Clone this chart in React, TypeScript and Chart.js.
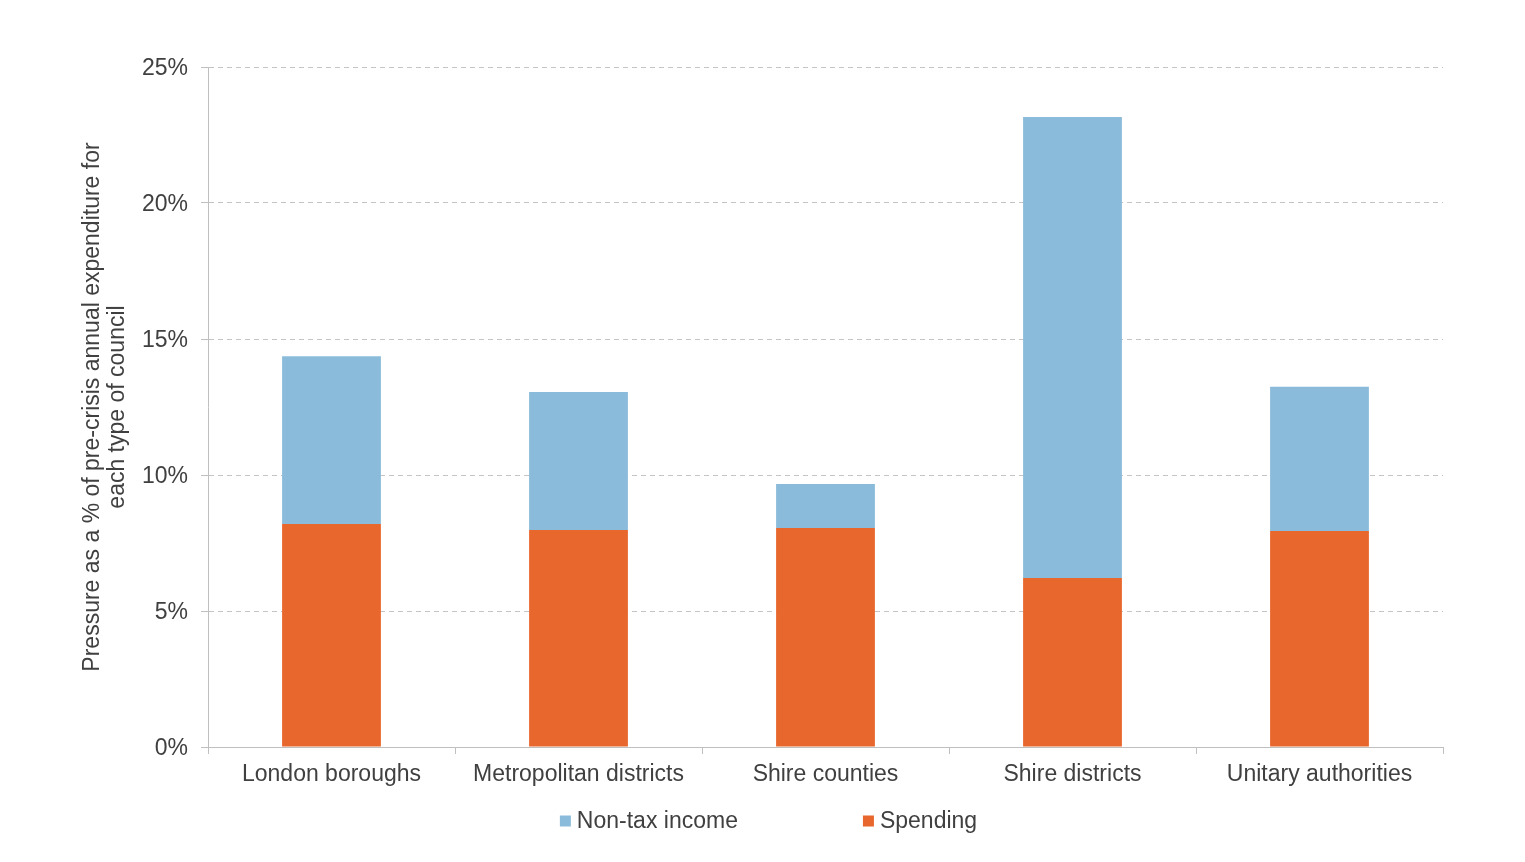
import React, { useEffect, useRef } from "react";
import { Chart, registerables } from "chart.js";

Chart.register(...registerables);

const categories = [
  "London boroughs",
  "Metropolitan districts",
  "Shire counties",
  "Shire districts",
  "Unitary authorities",
];
const spending = [8.2, 7.98, 8.05, 6.21, 7.94];
const nonTaxIncome = [6.17, 5.07, 1.62, 16.95, 5.3];
const yTicks = [0, 5, 10, 15, 20, 25];
const yTitle = ["Pressure as a % of pre-crisis annual expenditure for", "each type of council"];

const FONT = "'Liberation Sans', Arial, sans-serif";
const TEXT = "#404040";

const bottomLegend = {
  id: "bottomLegend",
  afterDraw(chart: any) {
    const ctx = chart.ctx as CanvasRenderingContext2D;
    const items = chart.data.datasets
      .map((d: any) => ({ label: d.label as string, color: d.backgroundColor as string }))
      .reverse();
    const box = 11;
    const gapText = 6;
    const gapItem = 125;
    ctx.save();
    ctx.font = `23px ${FONT}`;
    const widths = items.map((it: any) => box + gapText + ctx.measureText(it.label).width);
    const total = widths.reduce((a: number, b: number) => a + b, 0) + gapItem * (items.length - 1);
    let x = chart.width / 2 + 6 - total / 2;
    const y = chart.chartArea.bottom + 74;
    ctx.textBaseline = "middle";
    ctx.textAlign = "left";
    items.forEach((it: any, i: number) => {
      ctx.fillStyle = it.color;
      ctx.fillRect(x, y - box / 2, box, box);
      ctx.fillStyle = TEXT;
      ctx.fillText(it.label, x + box + gapText, y + 1);
      x += widths[i] + gapItem;
    });
    ctx.restore();
  },
};

export default function App() {
  const ref = useRef<HTMLCanvasElement | null>(null);
  useEffect(() => {
    if (!ref.current) return;
    const chart = new Chart(ref.current, {
      type: "bar",
      data: {
        labels: categories,
        datasets: [
          {
            label: "Spending",
            data: spending,
            backgroundColor: "#E8672C",
            barPercentage: 0.4,
            categoryPercentage: 1,
          },
          {
            label: "Non-tax income",
            data: nonTaxIncome,
            backgroundColor: "#8BBBDA",
            barPercentage: 0.4,
            categoryPercentage: 1,
          },
        ],
      },
      options: {
        animation: false,
        responsive: true,
        maintainAspectRatio: false,
        layout: { padding: { left: 0, right: 82, top: 67, bottom: 75 } },
        plugins: {
          legend: { display: false },
          tooltip: { enabled: false },
        },
        scales: {
          x: {
            stacked: true,
            afterFit: (s: any) => {
              s.height = 40;
            },
            grid: {
              drawOnChartArea: false,
              drawTicks: true,
              tickLength: 7,
              color: "#bfbfbf",
              offset: true,
            },
            border: { color: "#bfbfbf", width: 1 },
            ticks: {
              color: TEXT,
              font: { family: FONT, size: 23 },
              padding: 7,
              maxRotation: 0,
              autoSkip: false,
            },
          },
          y: {
            stacked: true,
            min: 0,
            max: 25,
            afterFit: (s: any) => {
              s.width = 208;
            },
            afterBuildTicks: (s: any) => {
              s.ticks = yTicks.map((v) => ({ value: v }));
            },
            grid: {
              color: (c: any) => (c.tick && c.tick.value === 0 ? "rgba(0,0,0,0)" : "#c4c4c4"),
              tickColor: "#bfbfbf",
              tickLength: 7,
              lineWidth: 1,
            },
            border: { color: "#bfbfbf", width: 1, dash: [5, 4] },
            ticks: {
              color: TEXT,
              font: { family: FONT, size: 23 },
              padding: 13,
              labelOffset: 2,
              callback: (v: any) => `${v}%`,
            },
            title: {
              display: true,
              text: yTitle,
              color: TEXT,
              font: { family: FONT, size: 23, lineHeight: 1.1 },
              padding: { top: 80, bottom: 0 },
            },
          },
        },
      },
      plugins: [bottomLegend],
    } as any);
    return () => chart.destroy();
  }, []);
  return (
    <div style={{ position: "absolute", left: 0, top: 0, width: 1525, height: 862, background: "#fff" }}>
      <canvas ref={ref} />
    </div>
  );
}
